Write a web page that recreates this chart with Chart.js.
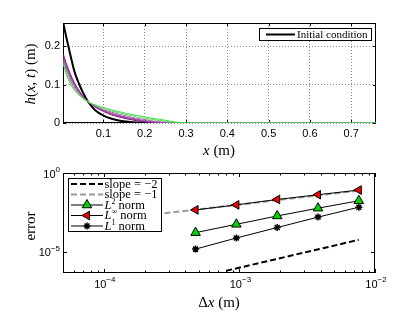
<!DOCTYPE html>
<html>
<head>
<meta charset="utf-8">
<script src="https://cdn.jsdelivr.net/npm/chart.js@4.4.1/dist/chart.umd.min.js"></script>
<style>
  html, body { margin: 0; padding: 0; background: #fff; overflow: hidden; }
  #lienzo { position: relative; width: 415px; height: 317px; }
  canvas { position: absolute; left: 0; top: 0; }
</style>
</head>
<body>
<div id="lienzo">
  <canvas id="perfil" width="415" height="317"></canvas>
  <canvas id="error" width="415" height="317"></canvas>
</div>
<script>
// Perfiles h(x,t) (panel superior)
const posX = [0.003, 0.01, 0.02, 0.03, 0.04, 0.05, 0.06, 0.07, 0.08, 0.1, 0.12, 0.14, 0.16, 0.18, 0.2, 0.22, 0.24, 0.26, 0.28, 0.3, 0.76];
const hInicial = [0.258, 0.223, 0.176, 0.133, 0.104, 0.080, 0.060, 0.045, 0.033, 0.019, 0.011, 0.006, 0.003, 0.001, 0, 0, 0, 0, 0, 0, 0];
const hPerfil1 = [0.178, 0.155, 0.127, 0.104, 0.086, 0.071, 0.058, 0.049, 0.041, 0.030, 0.021, 0.015, 0.010, 0.006, 0.003, 0.001, 0, 0, 0, 0, 0];
const hPerfil2 = [0.172, 0.149, 0.122, 0.100, 0.083, 0.069, 0.058, 0.049, 0.042, 0.032, 0.023, 0.017, 0.012, 0.008, 0.004, 0.002, 0.001, 0, 0, 0, 0];
const hPerfil3 = [0.166, 0.143, 0.117, 0.096, 0.080, 0.067, 0.058, 0.050, 0.043, 0.033, 0.025, 0.019, 0.014, 0.010, 0.006, 0.003, 0.001, 0, 0, 0, 0];
const hPerfil4 = [0.161, 0.137, 0.111, 0.092, 0.078, 0.066, 0.057, 0.050, 0.044, 0.035, 0.028, 0.022, 0.017, 0.012, 0.009, 0.005, 0.003, 0.001, 0, 0, 0];
const hPerfil5 = [0.156, 0.131, 0.106, 0.088, 0.075, 0.065, 0.057, 0.051, 0.046, 0.038, 0.031, 0.026, 0.021, 0.016, 0.012, 0.009, 0.006, 0.003, 0.001, 0, 0];
const hPerfil6 = [0.152, 0.126, 0.101, 0.085, 0.073, 0.064, 0.057, 0.051, 0.047, 0.040, 0.034, 0.029, 0.024, 0.020, 0.016, 0.012, 0.009, 0.005, 0.002, 0, 0];
const ticksX = [0.1, 0.2, 0.3, 0.4, 0.5, 0.6, 0.7];
const ticksH = [0, 0.1, 0.2];

// Convergencia (panel inferior)
const dx = [0.000475, 0.00095, 0.0019, 0.0038, 0.0076];
const errL2 = [1.66e-4, 5.6e-4, 1.9e-3, 5.9e-3, 1.74e-2];
const errLinf = [4.6e-3, 9.5e-3, 2.1e-2, 4.2e-2, 8.3e-2];
const errL1 = [1.5e-5, 7.6e-5, 3.5e-4, 1.6e-3, 6.8e-3];
const pendienteDos = { x: [0.0008, 0.0076], y: [6.4e-7, 5.8e-5] };
const pendienteUno = { x: [0.00028, 0.0076], y: [2.8e-3, 7.6e-2] };
const ticksDx = [1e-4, 1e-3, 1e-2];
const expDx = ['−4', '−3', '−2'];
const ticksErr = [1, 1e-5];
const expErr = ['0', '−5'];

const SANS = '"Liberation Sans", Arial, sans-serif';
const SERIF = '"Liberation Serif", "Times New Roman", serif';

const puntos = (xs, ys) => xs.map((x, i) => ({ x: x, y: ys[i] }));

// texto con partes en cursiva / superindice
function textoMixto(ctx, partes, x, y, align) {
  let ancho = 0;
  partes.forEach(p => {
    ctx.font = (p.it ? 'italic ' : '') + p.t + 'px ' + (p.f || SERIF);
    ancho += ctx.measureText(p.s).width;
  });
  let cx = align === 'center' ? x - ancho / 2 : (align === 'right' ? x - ancho : x);
  ctx.textAlign = 'left';
  ctx.textBaseline = 'middle';
  partes.forEach(p => {
    ctx.font = (p.it ? 'italic ' : '') + p.t + 'px ' + (p.f || SERIF);
    ctx.fillText(p.s, cx, y + (p.dy || 0));
    cx += ctx.measureText(p.s).width;
  });
}

function marco(ctx, a) {
  ctx.save();
  ctx.strokeStyle = '#000';
  ctx.lineWidth = 1;
  ctx.strokeRect(a.left + 0.5, a.top + 0.5, a.right - a.left - 1, a.bottom - a.top - 1);
  ctx.restore();
}

function raya(ctx, x1, y1, x2, y2) {
  ctx.beginPath();
  ctx.moveTo(x1, y1);
  ctx.lineTo(x2, y2);
  ctx.stroke();
}

const panelSuperior = {
  id: 'panelSuperior',
  beforeDatasetsDraw(chart) {
    const ctx = chart.ctx, a = chart.chartArea;
    marco(ctx, a);
    ctx.save();
    ctx.strokeStyle = '#000';
    ctx.lineWidth = 1;
    ticksX.forEach(v => {
      const px = Math.round(chart.scales.x.getPixelForValue(v)) + 0.5;
      raya(ctx, px, a.bottom, px, a.bottom - 3);
      raya(ctx, px, a.top, px, a.top + 3);
    });
    ticksH.forEach(v => {
      const py = Math.round(chart.scales.y.getPixelForValue(v)) + 0.5;
      raya(ctx, a.left, py, a.left + 3, py);
      raya(ctx, a.right, py, a.right - 3, py);
    });
    ctx.restore();
  },
  afterDatasetsDraw(chart) {
    const ctx = chart.ctx;
    ctx.save();
    // leyenda
    ctx.fillStyle = '#fff';
    ctx.fillRect(259.5, 28.5, 112, 12);
    ctx.strokeStyle = '#000';
    ctx.lineWidth = 1;
    ctx.strokeRect(259.5, 28.5, 112, 12);
    ctx.lineWidth = 2;
    raya(ctx, 266, 34.5, 295, 34.5);
    ctx.fillStyle = '#000';
    textoMixto(ctx, [{ s: 'Initial condition', t: 11 }], 297, 35, 'left');
    // titulos de ejes
    textoMixto(ctx, [{ s: 'x', t: 15, it: true }, { s: ' (m)', t: 15 }], 219, 151, 'center');
    ctx.translate(31, 74);
    ctx.rotate(-Math.PI / 2);
    textoMixto(ctx, [
      { s: 'h', t: 15, it: true }, { s: '(', t: 15 }, { s: 'x', t: 15, it: true }, { s: ', ', t: 15 },
      { s: 't', t: 15, it: true }, { s: ') (m)', t: 15 }
    ], 0, 0, 'center');
    ctx.restore();
  }
};

function marcador(ctx, tipo, x, y, r, relleno) {
  ctx.save();
  ctx.strokeStyle = '#000';
  ctx.lineWidth = 1;
  ctx.fillStyle = relleno;
  ctx.beginPath();
  if (tipo === 'star') {
    ctx.lineWidth = 1.5;
    for (let k = 0; k < 4; k++) {
      const ang = k * Math.PI / 4;
      ctx.moveTo(x - Math.cos(ang) * r, y - Math.sin(ang) * r);
      ctx.lineTo(x + Math.cos(ang) * r, y + Math.sin(ang) * r);
    }
    ctx.stroke();
  } else {
    let rad = tipo === 'left' ? -Math.PI / 2 : 0;
    for (let k = 0; k < 3; k++) {
      const px = x + Math.sin(rad) * r, py = y - Math.cos(rad) * r;
      if (k === 0) ctx.moveTo(px, py); else ctx.lineTo(px, py);
      rad += 2 * Math.PI / 3;
    }
    ctx.closePath();
    ctx.fill();
    ctx.stroke();
  }
  ctx.restore();
}

const panelInferior = {
  id: 'panelInferior',
  beforeDatasetsDraw(chart) {
    const ctx = chart.ctx, a = chart.chartArea;
    const sx = chart.scales.x, sy = chart.scales.y;
    marco(ctx, a);
    ctx.save();
    ctx.strokeStyle = '#000';
    ctx.lineWidth = 1;
    for (let e = -5; e <= -2; e++) {
      for (let m = 1; m <= 9; m++) {
        const v = m * Math.pow(10, e);
        if (v < sx.min || v > sx.max) continue;
        const px = Math.round(sx.getPixelForValue(v)) + 0.5;
        const largo = m === 1 ? 4 : 2.5;
        raya(ctx, px, a.bottom, px, a.bottom - largo);
        raya(ctx, px, a.top, px, a.top + largo);
      }
    }
    ticksErr.forEach(v => {
      const py = Math.round(sy.getPixelForValue(v)) + 0.5;
      raya(ctx, a.left, py, a.left + 4, py);
      raya(ctx, a.right, py, a.right - 4, py);
    });
    ctx.restore();
  },
  afterDatasetsDraw(chart) {
    const ctx = chart.ctx, a = chart.chartArea;
    const sx = chart.scales.x, sy = chart.scales.y;
    ctx.save();
    ctx.fillStyle = '#000';
    // etiquetas de los ejes logaritmicos
    ticksDx.forEach((v, i) => {
      const px = sx.getPixelForValue(v);
      textoMixto(ctx, [{ s: '10', t: 11, f: SANS }, { s: expDx[i], t: 8, f: SANS, dy: -5 }], px + 1, a.bottom + 12, 'center');
    });
    ticksErr.forEach((v, i) => {
      const py = sy.getPixelForValue(v);
      textoMixto(ctx, [{ s: '10', t: 11, f: SANS }, { s: expErr[i], t: 8, f: SANS, dy: -5 }], a.left - 3, py + 1.5, 'right');
    });
    // titulos
    textoMixto(ctx, [{ s: 'Δ', t: 15 }, { s: 'x', t: 15, it: true }, { s: ' (m)', t: 15 }], 219, 303, 'center');
    ctx.save();
    ctx.translate(31, 226);
    ctx.rotate(-Math.PI / 2);
    textoMixto(ctx, [{ s: 'error', t: 15 }], 0, 0, 'center');
    ctx.restore();
    // leyenda
    const L = 68.5, T = 178.5, W = 93, H = 53;
    ctx.fillStyle = '#fff';
    ctx.fillRect(L, T, W, H);
    ctx.strokeStyle = '#000';
    ctx.lineWidth = 1;
    ctx.strokeRect(L, T, W, H);
    const filas = [
      { y: 184, color: '#000', dash: [6, 3], ancho: 2, texto: [{ s: 'slope = −2', t: 12.5 }] },
      { y: 194.5, color: '#9a9a9a', dash: [6, 3], ancho: 2, texto: [{ s: 'slope = −1', t: 12.5 }] },
      { y: 205, color: '#000', ancho: 1, marca: 'up', relleno: '#00d400', r: 5.5,
        texto: [{ s: 'L', t: 12.5, it: true }, { s: '2', t: 8, dy: -4 }, { s: ' norm', t: 12.5 }] },
      { y: 215.5, color: '#000', ancho: 1, marca: 'left', relleno: '#f00000', r: 5,
        texto: [{ s: 'L', t: 12.5, it: true }, { s: '∞', t: 8, dy: -4 }, { s: ' norm', t: 12.5 }] },
      { y: 226, color: '#000', ancho: 1, marca: 'star', relleno: '#000', r: 3.5,
        texto: [{ s: 'L', t: 12.5, it: true }, { s: '1', t: 8, dy: -4 }, { s: ' norm', t: 12.5 }] }
    ];
    filas.forEach(f => {
      ctx.save();
      ctx.strokeStyle = f.color;
      ctx.lineWidth = f.ancho;
      ctx.setLineDash(f.dash || []);
      raya(ctx, 71, f.y, 103, f.y);
      ctx.restore();
      if (f.marca) marcador(ctx, f.marca, 87, f.y, f.r, f.relleno);
      ctx.fillStyle = '#000';
      textoMixto(ctx, f.texto, 104.5, f.y + 0.5, 'left');
    });
    ctx.restore();
  }
};

const perfiles = [hPerfil6, hPerfil5, hPerfil4, hPerfil3, hPerfil2, hPerfil1];
const colores = ['#40e040', '#70c870', '#a468aa', '#9a48a0', '#8c2a8c', '#7a0c7a'];

new Chart(document.getElementById('perfil'), {
  type: 'line',
  data: {
    datasets: perfiles.map((h, i) => ({
      data: puntos(posX, h),
      borderColor: colores[i],
      borderWidth: 1,
      pointRadius: 0,
      cubicInterpolationMode: 'monotone'
    })).concat([{
      label: 'Initial condition',
      data: puntos(posX, hInicial),
      borderColor: '#000',
      borderWidth: 2,
      pointRadius: 0,
      cubicInterpolationMode: 'monotone'
    }])
  },
  options: {
    responsive: false,
    animation: false,
    devicePixelRatio: 1,
    layout: { padding: { top: 23, right: 39, bottom: 174, left: 0 } },
    plugins: { legend: { display: false }, tooltip: { enabled: false } },
    scales: {
      x: {
        type: 'linear', min: 0.002, max: 0.76,
        afterFit: s => { s.height = 20; },
        grid: { color: '#8a8a8a', lineWidth: 1, drawTicks: false },
        border: { display: false, dash: [1, 2] },
        ticks: { stepSize: 0.1, includeBounds: false, padding: 4, color: '#000', maxRotation: 0,
          font: { family: SANS, size: 11 }, callback: v => String(Number(v.toFixed(1))) }
      },
      y: {
        type: 'linear', min: 0, max: 0.26,
        afterFit: s => { s.width = 63; },
        grid: { color: '#8a8a8a', lineWidth: 1, drawTicks: false },
        border: { display: false, dash: [1, 2] },
        ticks: { stepSize: 0.1, includeBounds: false, padding: 3, color: '#000',
          font: { family: SANS, size: 11 }, callback: v => String(Number(v.toFixed(1))) }
      }
    }
  },
  plugins: [panelSuperior]
});

new Chart(document.getElementById('error'), {
  type: 'line',
  data: {
    datasets: [
      { label: 'Linf', data: puntos(dx, errLinf), borderColor: '#000', borderWidth: 1,
        pointStyle: 'triangle', rotation: -90, pointRadius: 5, pointBackgroundColor: '#f00000',
        pointBorderColor: '#000', pointBorderWidth: 1 },
      { label: 'L2', data: puntos(dx, errL2), borderColor: '#000', borderWidth: 1,
        pointStyle: 'triangle', pointRadius: 5.5, pointBackgroundColor: '#00d400',
        pointBorderColor: '#000', pointBorderWidth: 1 },
      { label: 'L1', data: puntos(dx, errL1), borderColor: '#000', borderWidth: 1,
        pointStyle: 'star', pointRadius: 3.5, pointBorderColor: '#000', pointBorderWidth: 1.5 },
      { label: 'slope -1', data: puntos(pendienteUno.x, pendienteUno.y), borderColor: '#9a9a9a',
        borderWidth: 2, borderDash: [6, 3], pointRadius: 0 },
      { label: 'slope -2', data: puntos(pendienteDos.x, pendienteDos.y), borderColor: '#000',
        borderWidth: 2, borderDash: [6, 3], pointRadius: 0 }
    ]
  },
  options: {
    responsive: false,
    animation: false,
    devicePixelRatio: 1,
    layout: { padding: { top: 173, right: 40, bottom: 24, left: 0 } },
    plugins: { legend: { display: false }, tooltip: { enabled: false } },
    scales: {
      x: {
        type: 'logarithmic', min: 5e-5, max: 1e-2,
        afterFit: s => { s.height = 20; },
        grid: { display: false },
        border: { display: false },
        ticks: { display: false }
      },
      y: {
        type: 'logarithmic', min: 4.6e-7, max: 1,
        afterFit: s => { s.width = 63; },
        grid: { display: false },
        border: { display: false },
        ticks: { display: false }
      }
    }
  },
  plugins: [panelInferior]
});
</script>
</body>
</html>
